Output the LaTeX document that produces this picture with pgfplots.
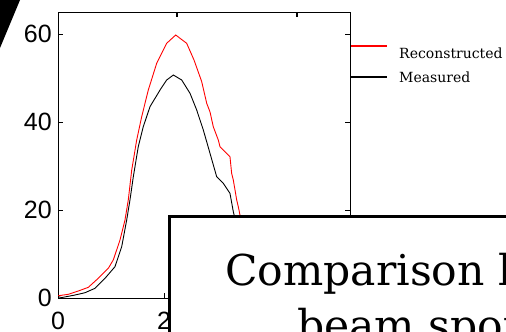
\documentclass[border=0pt]{standalone}
\usepackage{fontspec}
\setmainfont{Liberation Sans}
\newfontfamily\dvs{DejaVu Serif}
\usepackage{pgfplots}
\pgfplotsset{compat=1.18}

\definecolor{recred}{RGB}{255,0,0}

\begin{document}
\begin{tikzpicture}[x=1bp,y=1bp]
\useasboundingbox (0,0) rectangle (506,331);
\clip (0,0) rectangle (506,331);

\begin{axis}[
    at={(58bp,33bp)}, anchor=south west,
    scale only axis, width=292bp, height=286bp,
    xmin=0, xmax=5.51, ymin=0, ymax=65,
    xtick={0,2}, ytick={0,20,40,60},
    xtick pos=bottom,
    tick align=inside,
    major tick length=5bp,
    axis line style={line width=0.9bp},
    every tick/.style={black, line width=0.9bp},
    tick label style={font=\fontsize{25bp}{30bp}\selectfont},
    /pgf/number format/assume math mode=true,
    yticklabel style={anchor=east, inner sep=0pt, xshift=-6bp},
    xticklabel style={anchor=north, inner sep=0pt, yshift=-14bp},
]
% reconstructed
\addplot[recred, line width=0.9bp] coordinates {
(0,0.5) (0.194,0.84) (0.383,1.59) (0.572,2.43) (0.760,4.48) (0.949,6.75)
(1.043,8.64) (1.170,13.18) (1.264,17.73) (1.326,22.27) (1.391,29.09)
(1.485,35.91) (1.579,41.2) (1.704,47.27) (1.862,53.34) (2.051,57.89)
(2.221,59.77) (2.428,57.89) (2.566,54.1) (2.711,49.2) (2.806,44.25)
(2.868,42.3) (2.930,38.93) (3.025,35.9) (3.057,34.39) (3.213,32.5)
(3.245,32.11) (3.277,28.3) (3.308,26.82) (3.372,22.27) (3.402,20.75)
(3.434,18.86) (3.6,12) (3.8,6) (4.0,3) (4.3,1) (4.6,0.5) (5.5,0.3)
};
% measured
\addplot[black, line width=0.9bp] coordinates {
(0,0.3) (0.07,0.1) (0.321,0.68) (0.509,1.2) (0.698,2.2) (0.887,4.48)
(1.075,7.11) (1.202,11.66) (1.296,17.73) (1.358,22.27) (1.421,27.57)
(1.515,34.39) (1.609,38.93) (1.736,43.48) (1.925,47.27) (2.051,49.55)
(2.176,50.68) (2.334,49.55) (2.491,46.52) (2.617,42.73) (2.742,38.18)
(2.868,32.89) (2.994,27.57) (3.119,26.07) (3.245,23.8) (3.308,19.61)
(3.4,15) (3.6,9) (3.8,4.5) (4.0,2) (4.3,0.8) (5.5,0.3)
};
\end{axis}

% top ticks sit at other places than the bottom ones
\begin{axis}[
    at={(58bp,33bp)}, anchor=south west,
    scale only axis, width=292bp, height=286bp,
    xmin=0, xmax=5.51, ymin=0, ymax=65,
    hide y axis, axis x line*=top,
    axis line style={draw=none},
    xtick={2.245,4.51}, xticklabels={},
    tick align=inside, major tick length=5bp,
    every tick/.style={black, line width=1.2bp},
]
\end{axis}

% legend
\draw[recred, line width=1.3bp] (351,285) -- (387,285);
\draw[black, line width=1.3bp] (351,254) -- (387,254);
\node[anchor=west, inner sep=0pt, font=\dvs\fontsize{14bp}{16bp}\selectfont] at (399,278) {Reconstructed};
\node[anchor=west, inner sep=0pt, font=\dvs\fontsize{14bp}{16bp}\selectfont] at (399,254) {Measured};

% slide decorations
\fill[black] (0,331) -- (20,331) -- (0,283) -- cycle;
\draw[line width=3.5bp, fill=white] (169.5,-20) rectangle (530,114.5);
\node[anchor=base west, inner sep=0pt, font=\dvs\fontsize{42.5bp}{50bp}\selectfont] at (225,46) {Comparison between};
\node[anchor=base west, inner sep=0pt, font=\dvs\fontsize{42.5bp}{50bp}\selectfont] at (297,-9) {beam spots};
\end{tikzpicture}
\end{document}
